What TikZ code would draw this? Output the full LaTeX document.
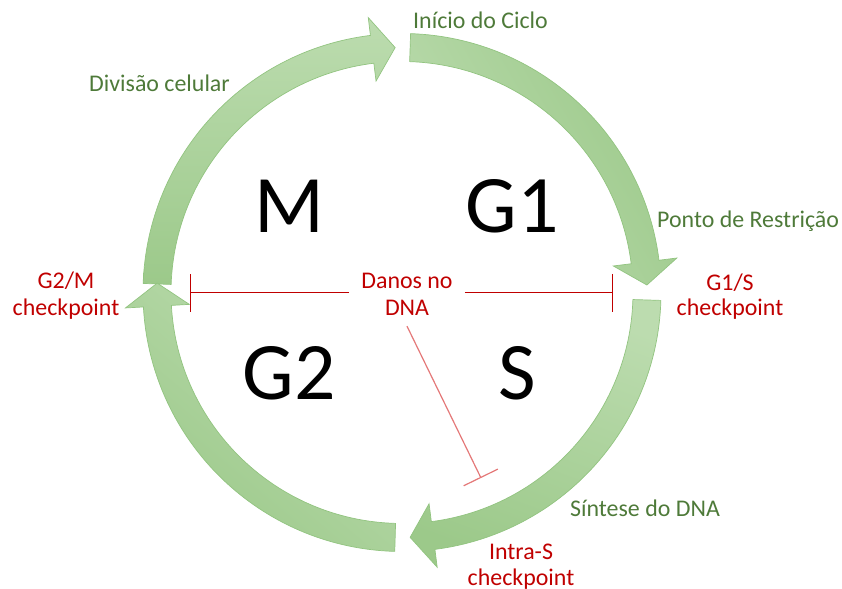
\documentclass[tikz,border=0pt]{standalone}
\usepackage{fontspec}
\setmainfont{Carlito}
\usetikzlibrary{arrows.meta}
\definecolor{arrlight}{HTML}{BCDCAF}
\definecolor{arrdark}{HTML}{9CC98A}
\definecolor{arredge}{HTML}{92C480}
\definecolor{txtgreen}{HTML}{4E7A39}
\definecolor{txtred}{HTML}{C00000}
\definecolor{inhred}{HTML}{C00000}
\definecolor{inhpink}{HTML}{E47878}
\newcommand\cycarrow[4]{%
  \shadedraw[cyc,#4] (#1:259) arc[start angle=#1, end angle=#2, radius=259]
    -- (#2:277) -- (#3:245) -- (#2:213) -- (#2:231)
    arc[start angle=#2, end angle=#1, radius=231] -- cycle;}
\begin{document}
\begin{tikzpicture}[x=1bp,y=1bp,
  lbl/.style={font=\fontsize{24}{26}\selectfont, text=txtgreen, inner sep=0pt},
  chk/.style={font=\fontsize{24}{26}\selectfont, text=txtred, inner sep=0pt, anchor=base},
  phase/.style={font=\fontsize{82}{90}\selectfont, inner sep=0pt, anchor=base},
  cyc/.style={draw=arredge, line width=0.7bp},
  inh/.style={draw=inhred, line width=1bp, -{Bar[width=38bp,line width=1bp]}},
  inhs/.style={draw=inhpink, line width=1.2bp, -{Bar[width=38bp,line width=1.2bp]}}]
\useasboundingbox (0,0) rectangle (842,589);
\begin{scope}[shift={(402,296.5)}]
  % M (Divisao celular)
  \cycarrow{178}{97}{91.6}{bottom color=arrdark, top color=arrlight}
  % G1 (Inicio do Ciclo)
  \cycarrow{88.1}{7.15}{1.75}{left color=arrlight, right color=arrdark, shading angle=120}
  % S (Sintese do DNA)
  \cycarrow{-1.75}{-82.7}{-88.1}{top color=arrlight, bottom color=arrdark, shading angle=-20}
  % G2
  \cycarrow{-91.6}{-176.8}{-182.2}{bottom color=arrdark, top color=arrlight, shading angle=-40}
\end{scope}
% phase letters
\node[phase] (m)  at (289,356) {M};
\node[phase] (g1) at (512,356) {G1};
\node[phase] (g2) at (289,189) {G2};
\node[phase] (s)  at (517,189) {S};
% green labels
\node[lbl, anchor=base west] (inicio)  at (413,560) {Início do Ciclo};
\node[lbl, anchor=base west] (divisao) at (89,497)  {Divisão celular};
\node[lbl, anchor=base west] (ponto)   at (657,361) {Ponto de Restrição};
\node[lbl, anchor=base west] (sintese) at (570,72)  {Síntese do DNA};
% checkpoints
\node[chk] (g1s)  at (730,298) {G1/S};
\node[chk] (g1sb) at (730,273) {checkpoint};
\node[chk] (g2m)  at (66,300)  {G2/M};
\node[chk] (g2mb) at (66,273)  {checkpoint};
\node[chk] (intra)  at (521,29) {Intra-S};
\node[chk] (intrab) at (521,3)  {checkpoint};
% DNA damage
\node[chk, inner xsep=12bp] (danos) at (407,300) {Danos no};
\node[chk, inner ysep=10bp] (dna)   at (407,273) {DNA};
\coordinate (lbar) at (190,296);
\coordinate (rbar) at (613,296);
\coordinate (sbar) at (481,111);
\draw[inh] (danos.west |- lbar) -- (lbar);
\draw[inh] (danos.east |- rbar) -- (rbar);
\draw[inhs] (dna.south) -- (sbar);
\end{tikzpicture}
\end{document}
